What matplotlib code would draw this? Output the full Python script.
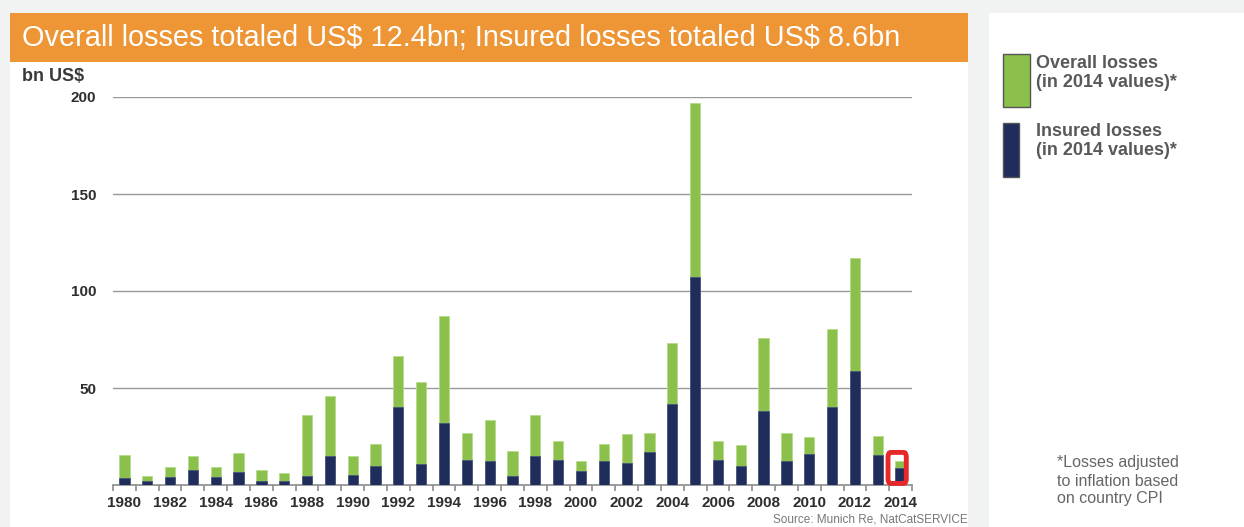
import numpy as np
import matplotlib

matplotlib.use("Agg")
import matplotlib.pyplot as plt
from matplotlib.patches import Rectangle, FancyBboxPatch

plt.rcParams["font.family"] = ["Liberation Sans", "DejaVu Sans"]

# data (bn US$, 2014 values)
years = list(range(1980, 2015))
overall = [15.5, 4.8, 9.3, 14.8, 9.3, 16.5, 7.6, 6.0, 36.1, 45.9,
           15.1, 21.1, 66.5, 53.0, 87.0, 26.6, 33.3, 17.5, 36.1, 22.5,
           12.5, 21.1, 26.1, 27.0, 73.4, 197.0, 22.8, 20.6, 75.6, 26.6,
           24.7, 80.3, 117.0, 25.1, 12.4]
insured = [3.4, 2.2, 4.3, 7.6, 4.3, 6.5, 2.1, 2.1, 4.6, 14.8,
           5.2, 9.8, 40.0, 10.7, 32.0, 13.0, 12.2, 4.8, 14.8, 13.0,
           7.0, 12.2, 11.2, 17.2, 41.8, 107.2, 13.0, 9.8, 38.1, 12.5,
           16.1, 40.0, 58.6, 15.6, 8.6]
yticks = [50, 100, 150, 200]
title = "Overall losses totaled US$ 12.4bn; Insured losses totaled US$ 8.6bn"

GREEN = "#8bc04c"
NAVY = "#1f2d5c"
ORANGE = "#ee9535"
BG = "#f1f3f3"
TXT = "#3a3a3a"

W, H = 1244, 527

fig = plt.figure(figsize=(W / 100, H / 100), dpi=100, facecolor=BG)

# background panels and title band (pixel boxes, top-left origin)
for (x, y, w, h), c in [((10, 13, 958, 520), "white"),
                        ((989, 13, 260, 520), "white"),
                        ((10, 13, 958, 49), ORANGE)]:
    fig.add_artist(Rectangle((x / W, 1 - (y + h) / H), w / W, h / H,
                             transform=fig.transFigure, facecolor=c,
                             edgecolor="none", zorder=0))

fig.text(22 / W, 1 - 38 / H, title, color="white", fontsize=20.8,
         va="center", ha="left", parse_math=False)
fig.text(22 / W, 1 - 76 / H, "bn US$", color=TXT, fontsize=13,
         fontweight="bold", va="center", parse_math=False)

ax = fig.add_axes([113 / W, 42 / H, 799 / W, 388 / H])
ax.set_facecolor("none")
x = np.arange(len(years))
ax.bar(x, overall, width=0.45, color=GREEN, edgecolor="#b5dc88",
       linewidth=0.6, zorder=3)
ax.bar(x, insured, width=0.45, color=NAVY, edgecolor="#4a5680",
       linewidth=0.6, zorder=4)

ax.set_xlim(-0.5, len(years) - 0.5)
ax.set_ylim(0, 200)
ax.set_yticks(yticks)
ax.set_yticklabels([str(v) for v in yticks])
ax.yaxis.grid(True, color="#999999", linewidth=1)
ax.set_axisbelow(True)
for s in ["top", "right", "left"]:
    ax.spines[s].set_visible(False)
ax.spines["bottom"].set_color("#8c8c8c")
ax.spines["bottom"].set_linewidth(1.2)

ax.set_xticks(x[::2])
ax.set_xticklabels([str(yr) for yr in years[::2]])
ax.set_xticks(np.arange(-0.5, len(years)), minor=True)
ax.tick_params(axis="x", which="major", length=0, pad=8)
ax.tick_params(axis="x", which="minor", length=4, color="#8c8c8c", width=1.2)
ax.tick_params(axis="y", length=0, pad=12)
for lab in ax.get_xticklabels() + ax.get_yticklabels():
    lab.set_fontweight("bold")
    lab.set_fontsize(11)
    lab.set_color("#2e2e2e")

# red highlight around the 2014 bar
ax.add_patch(FancyBboxPatch((33.45, 0.8), 0.8, 16.0,
                            boxstyle="round,pad=0,rounding_size=0.12",
                            mutation_aspect=20, fill=False,
                            edgecolor="#e8272a", linewidth=3.5,
                            clip_on=False, zorder=5))

fig.text(968 / W, 1 - 520 / H, "Source: Munich Re, NatCatSERVICE",
         color="#777777", fontsize=8.5, ha="right", va="center")

# legend
fig.add_artist(Rectangle((1003 / W, 1 - 107 / H), 27 / W, 53 / H,
                         transform=fig.transFigure, facecolor=GREEN,
                         edgecolor="#555555", linewidth=1))
fig.add_artist(Rectangle((1003 / W, 1 - 177 / H), 16 / W, 54 / H,
                         transform=fig.transFigure, facecolor=NAVY,
                         edgecolor="#555555", linewidth=1))
fig.text(1036 / W, 1 - 73 / H, "Overall losses\n(in 2014 values)*",
         color="#595959", fontsize=13, fontweight="bold", va="center",
         linespacing=1.15)
fig.text(1036 / W, 1 - 141 / H, "Insured losses\n(in 2014 values)*",
         color="#595959", fontsize=13, fontweight="bold", va="center",
         linespacing=1.15)

fig.text(1057 / W, 1 - 481 / H,
         "*Losses adjusted\nto inflation based\non country CPI",
         color="#666666", fontsize=11.5, va="center", linespacing=1.25)

fig.savefig("out.png", dpi=100, facecolor=BG)
